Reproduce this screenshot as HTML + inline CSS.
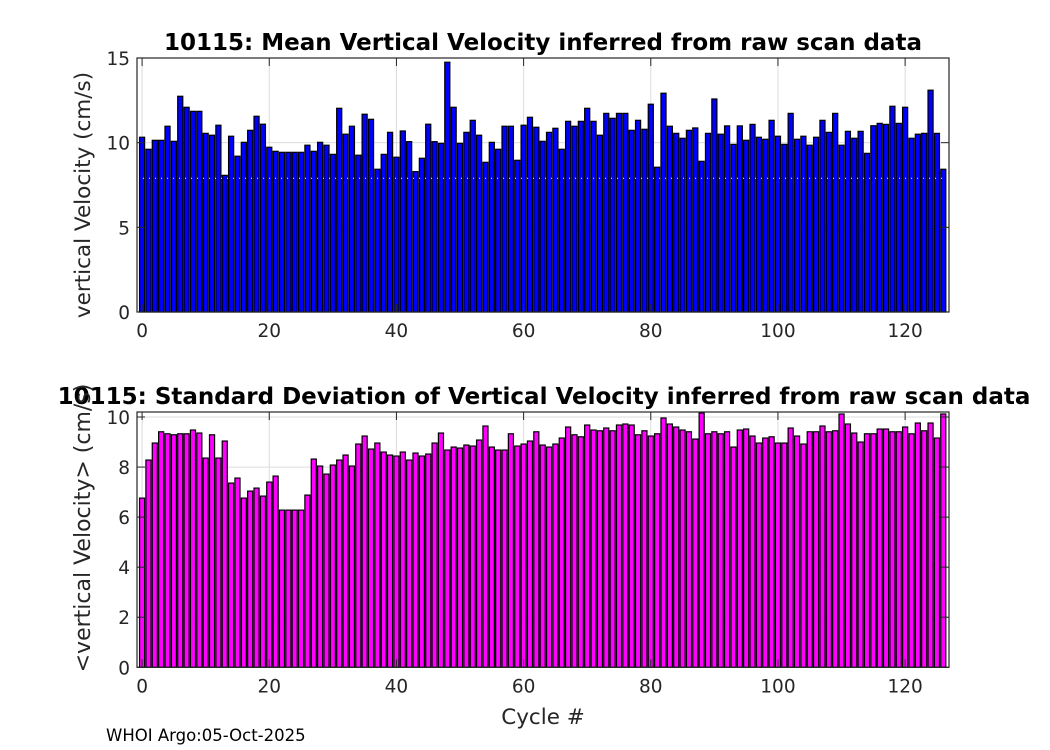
<!DOCTYPE html>
<html><head><meta charset="utf-8"><style>
body{margin:0;background:#fff;}
svg{display:block;font-family:"DejaVu Sans","Liberation Sans",sans-serif;}
</style></head><body>
<svg id="chart" width="1050" height="750" viewBox="0 0 1050 750">
<rect width="1050" height="750" fill="#fff"/>
<g id="top"></g>
<g id="bot"></g>
<text x="543" y="50" text-anchor="middle" font-size="23" font-weight="bold">10115: Mean Vertical Velocity inferred from raw scan data</text>
<text x="544" y="404" text-anchor="middle" font-size="23" font-weight="bold">10115: Standard Deviation of Vertical Velocity inferred from raw scan data</text>
<text transform="translate(90,195) rotate(-90)" text-anchor="middle" font-size="21.5" fill="#262626">vertical Velocity (cm/s)</text>
<text transform="translate(90,528) rotate(-90)" text-anchor="middle" font-size="22" fill="#262626">&lt;vertical Velocity&gt; (cm/s)</text>
<text x="543" y="724" text-anchor="middle" font-size="21.5" fill="#262626">Cycle #</text>
<text x="106" y="741" font-size="16.5">WHOI Argo:05-Oct-2025</text>
</svg>
<script>
const meanVals=[10.32,9.61,10.14,10.14,10.97,10.08,12.74,12.09,11.85,11.85,10.55,10.44,11.03,8.07,10.38,9.2,10.02,10.73,11.56,11.09,9.73,9.49,9.43,9.43,9.43,9.43,9.85,9.49,10.02,9.85,9.31,12.03,10.5,10.97,9.26,11.68,11.38,8.43,9.31,10.61,9.14,10.69,10.06,8.29,9.08,11.09,10.06,9.96,14.75,12.09,9.96,10.61,11.32,10.44,8.84,10.02,9.61,10.97,10.97,8.96,11.03,11.5,10.91,10.08,10.61,10.85,9.61,11.26,10.97,11.26,12.03,11.26,10.44,11.73,11.44,11.73,11.73,10.73,11.32,10.79,12.27,8.55,12.92,10.97,10.55,10.26,10.73,10.87,8.9,10.55,12.58,10.5,10.99,9.9,10.99,10.14,11.08,10.32,10.2,11.32,10.38,9.9,11.73,10.2,10.38,9.85,10.32,11.32,10.61,11.73,9.85,10.67,10.26,10.67,9.37,11.0,11.14,11.08,12.15,11.14,12.09,10.26,10.5,10.55,13.1,10.55,8.43];
const stdVals=[6.76,8.28,8.96,9.41,9.33,9.29,9.33,9.33,9.48,9.36,8.36,9.29,8.36,9.04,7.36,7.56,6.76,7.04,7.16,6.84,7.40,7.64,6.28,6.28,6.28,6.28,6.88,8.32,8.04,7.72,8.08,8.28,8.48,8.04,8.92,9.24,8.72,8.96,8.60,8.48,8.44,8.60,8.28,8.56,8.44,8.52,8.96,9.36,8.68,8.80,8.76,8.88,8.84,9.08,9.64,8.80,8.68,8.68,9.33,8.84,8.92,9.04,9.41,8.88,8.80,8.92,9.16,9.60,9.29,9.21,9.68,9.48,9.45,9.56,9.45,9.68,9.72,9.68,9.29,9.45,9.24,9.33,9.96,9.72,9.60,9.48,9.41,9.12,10.16,9.33,9.41,9.33,9.41,8.80,9.48,9.52,9.24,8.96,9.16,9.21,8.96,8.96,9.56,9.24,8.92,9.41,9.41,9.64,9.41,9.45,10.12,9.72,9.36,9.0,9.33,9.33,9.52,9.52,9.41,9.41,9.60,9.33,9.76,9.45,9.76,9.16,10.12];
const xTicks=[0,20,40,60,80,100,120];
const topYTicks=[0,5,10,15];
const botYTicks=[0,2,4,6,8,10];
const refLine=7.9;

const NS='http://www.w3.org/2000/svg';
const X0=137,X1=949,XMIN=-0.8,XMAX=126.9;
function xs(v){return X0+(v-XMIN)/(XMAX-XMIN)*(X1-X0);}
function mk(tag,attrs,parent){const e=document.createElementNS(NS,tag);for(const k in attrs)e.setAttribute(k,attrs[k]);parent.appendChild(e);return e;}

function panel(g,vals,yTop,yBot,ymax,yTicks,color,prefix,withRef){
  const ys=v=>yBot-(v/ymax)*(yBot-yTop);
  for(const t of xTicks){
    const l=mk('line',{x1:xs(t),x2:xs(t),y1:yTop,y2:yBot,stroke:'#dcdcdc','stroke-width':1},g);
    
    
  }
  for(const t of yTicks){
    const l=mk('line',{x1:X0,x2:X1,y1:ys(t),y2:ys(t),stroke:'#dcdcdc','stroke-width':1},g);
    
    
  }
  const bw=0.8*(X1-X0)/(XMAX-XMIN);
  vals.forEach((v,i)=>{
    const r=mk('rect',{x:xs(i)-bw/2,y:ys(v),width:bw,height:yBot-ys(v),fill:color,stroke:'#000','stroke-width':1.2},g);
    
    
  });
  if(withRef){
    const l=mk('line',{x1:X0,x2:X1,y1:ys(refLine),y2:ys(refLine),stroke:'#fff','stroke-width':1,'stroke-dasharray':'1 5'},g);
    
    
  }
  const b=mk('rect',{x:X0,y:yTop,width:X1-X0,height:yBot-yTop,fill:'none',stroke:'#262626','stroke-width':1.2},g);
  
  
  for(const t of xTicks){
    mk('line',{x1:xs(t),x2:xs(t),y1:yBot,y2:yBot-8,stroke:'#262626'},g);
    mk('line',{x1:xs(t),x2:xs(t),y1:yTop,y2:yTop+8,stroke:'#262626'},g);
    const tx=mk('text',{x:xs(t),y:yBot+25,'text-anchor':'middle','font-size':18.5,fill:'#262626'},g);
    tx.textContent=t;
    
    
  }
  for(const t of yTicks){
    mk('line',{x1:X0,x2:X0+8,y1:ys(t),y2:ys(t),stroke:'#262626'},g);
    mk('line',{x1:X1,x2:X1-8,y1:ys(t),y2:ys(t),stroke:'#262626'},g);
    const tx=mk('text',{x:X0-7,y:ys(t)+7,'text-anchor':'end','font-size':18.5,fill:'#262626'},g);
    tx.textContent=t;
    
    
  }
}
panel(document.getElementById('top'),meanVals,58,312,15,topYTicks,'#0000ff','mean',true);
panel(document.getElementById('bot'),stdVals,412,667.3,10.2,botYTicks,'#ff00ff','std',false);
</script>
</body></html>
